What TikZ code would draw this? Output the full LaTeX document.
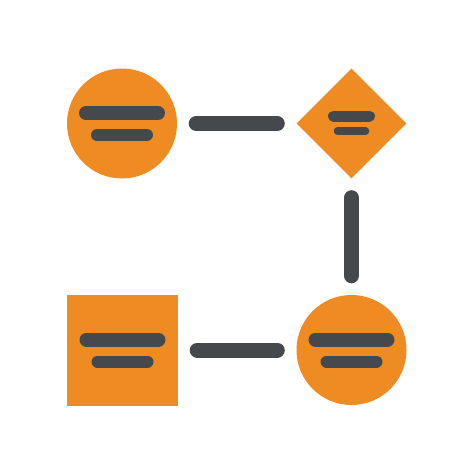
\documentclass[tikz,border=0pt]{standalone}
\usepackage{xcolor}
\usepackage{tikz}
\usetikzlibrary{positioning,shapes.geometric}
\definecolor{iconorange}{HTML}{EE8B22}
\definecolor{icongray}{HTML}{45484C}

\begin{document}
\begin{tikzpicture}[x=1pt,y=-1pt,node distance=229pt,on grid,
    blob/.style={fill=iconorange,draw=none,inner sep=0pt,minimum size=110pt},
    link/.style={draw=icongray,line width=15pt,line cap=round,shorten >=19pt,shorten <=19pt},
    bar/.style={draw=icongray,line width=14pt,line cap=round},
    smallbar/.style={draw=icongray,line width=12pt,line cap=round}]
        \useasboundingbox (0,0) rectangle (474,474);
        \node[blob,circle] (c1) at (122,123.5) {};
        \node[blob,diamond] (d1) [right=229.5pt of c1] {};
        \node[blob,circle] (c2) [below=226.5pt of d1] {};
        \node[blob,rectangle,minimum size=111pt] (sq) [left=229pt of c2] {};
        % connectors
        \path   (c1) edge[link] (d1)
                (d1) edge[link] (c2)
                (sq) edge[link] (c2);
        % lines inside the shapes
        \foreach \n in {c1,c2,sq} {
            \draw[bar] ([shift={(-36,-10.5)}]\n.center) -- ([shift={(36,-10.5)}]\n.center);
            \draw[smallbar] ([shift={(-25,11.5)}]\n.center) -- ([shift={(25,11.5)}]\n.center);
        }
        \draw[bar,line width=11pt] ([shift={(-18,-7.5)}]d1.center) -- ([shift={(18,-7.5)}]d1.center);
        \draw[bar,line width=7.5pt] ([shift={(-14,7.5)}]d1.center) -- ([shift={(14,7.5)}]d1.center);
    \end{tikzpicture}
\end{document}
